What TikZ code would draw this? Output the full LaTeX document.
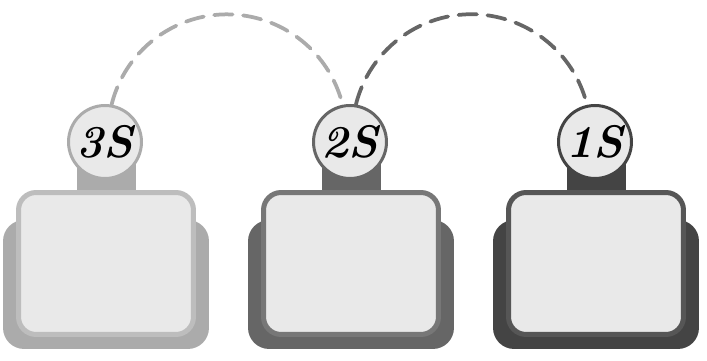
\documentclass[tikz,border=0pt]{standalone}
\usepackage{tikz}
\usetikzlibrary{arrows.meta,positioning,calc,backgrounds}

\definecolor{paneFill}{HTML}{E9E9E9}
\definecolor{lightBack}{HTML}{ABABAB}
\definecolor{lightEdge}{HTML}{BDBDBD}
\definecolor{midBack}{HTML}{666666}
\definecolor{midEdge}{HTML}{777777}
\definecolor{darkBack}{HTML}{444444}
\definecolor{darkEdge}{HTML}{565656}

\tikzset{
  backbox/.style={rectangle, rounded corners=12pt, minimum width=4.12cm, minimum height=2.58cm, inner sep=0pt},
  frontbox/.style={rectangle, rounded corners=10pt, fill=paneFill, line width=0.1cm, minimum width=3.5cm, minimum height=2.84cm, inner sep=0pt},
  badge/.style={circle, fill=paneFill, line width=0.06cm, minimum size=1.46cm, inner sep=0pt,
    font=\fontsize{26}{26}\selectfont\bfseries\itshape},
  hop/.style={line width=0.075cm, dash pattern=on 10.5pt off 6pt, line cap=round}
}

\begin{document}
\begin{tikzpicture}[x=0.02cm, y=0.02cm]
  \useasboundingbox (0,0) rectangle (707,361);

  % three stages
  \foreach \cx/\name/\back/\edge/\lbl in {106/s3/lightBack/lightEdge/3S, 351/s2/midBack/midEdge/2S, 596/s1/darkBack/darkEdge/1S} {
    \node[backbox, fill=\back] (\name-back) at (\cx,76.5) {};
    \fill[\back] (\cx-29.5,165) rectangle (\cx+29.5,215);
    \node[frontbox, draw=\edge] (\name-front) at (\cx,97.5) {};
    \node[badge, draw=\back] (\name) at (\cx-1,219) {\lbl};
  }

  % links between stages
  \begin{pgfonlayer}{background}
    \draw[hop, lightBack] (s3.80) arc[start angle=166, end angle=14, radius=119];
    \draw[hop, midBack] (s2.81) arc[start angle=166, end angle=14, radius=119];
  \end{pgfonlayer}
\end{tikzpicture}
\end{document}
